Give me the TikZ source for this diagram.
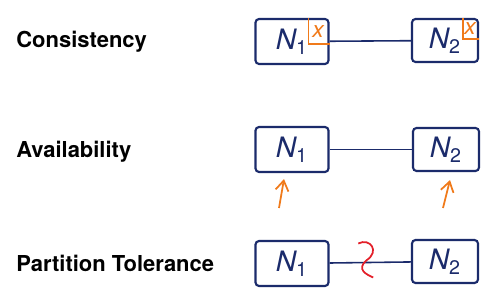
\documentclass[tikz,border=0pt]{standalone}
\usepackage{fontspec}
\setmainfont{TeX Gyre Heros}
\usetikzlibrary{arrows.meta}
\definecolor{ink}{HTML}{1B2B6B}
\definecolor{pen}{HTML}{F07A1A}
\definecolor{cutred}{HTML}{E3202A}

\begin{document}
\begin{tikzpicture}[x=0.02cm, y=-0.02cm, every node/.style={inner sep=0pt},
	lbl/.style={font=\fontsize{12.5}{15}\selectfont\bfseries, anchor=base west},
	srv/.style={draw=ink, line width=1.2pt, rounded corners=2pt, text=ink, font=\fontsize{16}{20}\selectfont\itshape, minimum width=1.46cm, minimum height=0.9cm},
	srvb/.style={srv, minimum width=1.32cm, minimum height=0.86cm},
	link/.style={draw=ink, line width=0.9pt},
	corner/.style={draw=pen, line width=1pt},
	xmark/.style={text=pen, font=\fontsize{13}{14}\selectfont\itshape},
	req/.style={draw=pen, line width=1pt, -{Straight Barb[length=2mm, width=2.6mm]}},
	cutmark/.style={draw=cutred, line width=1pt}]
	\useasboundingbox (0,0) rectangle (500,303);
	\node[lbl] (lc) at (16,48) {Consistency};
	\node[lbl] (la) at (16,158) {Availability};
	\node[lbl] (lp) at (16,272) {Partition Tolerance};
	\node[srv] (c1) at (292,41.5) {N\textsubscript{\upshape1}\hspace{0.4cm}};
	\node[srvb] (c2) at (445,40.5) {N\textsubscript{\upshape2}\hspace{0.25cm}};
	\node[srv] (a1) at (292,149.5) {N\textsubscript{\upshape1}};
	\node[srvb] (a2) at (446,149.5) {N\textsubscript{\upshape2}};
	\node[srv] (p1) at (292,263.5) {N\textsubscript{\upshape1}};
	\node[srvb] (p2) at (445,261.5) {N\textsubscript{\upshape2}};
	\draw[link] (c1) -- (c2);
	\draw[link] (a1) -- (a2);
	\draw[link] (p1) -- (p2) coordinate[midway] (cut);
	\draw[corner] ([xshift=-0.42cm]c1.north east) |- ([yshift=-0.52cm]c1.north east);
	\draw[corner] ([xshift=-0.32cm]c2.north east) |- ([yshift=-0.42cm]c2.north east);
	\node[xmark] (x1) at (318,32) {x};
	\node[xmark] (x2) at (470,29) {x};
	\coordinate (r1) at (279,208);
	\coordinate (r2) at (443,208);
	\draw[req] (r1) -- ([xshift=0.1cm, yshift=-0.12cm]r1 |- a1.south);
	\draw[req] (r2) -- ([xshift=0.14cm, yshift=-0.16cm]r2 |- a2.south);
	\draw[cutmark] ([shift={(-12,-19)}]cut) .. controls ([shift={(0,-25)}]cut) and ([shift={(10,-11)}]cut) .. ([shift={(-4,-2)}]cut) .. controls ([shift={(-14,7)}]cut) and ([shift={(-4,12)}]cut) .. ([shift={(3,15)}]cut);
\end{tikzpicture}
\end{document}
